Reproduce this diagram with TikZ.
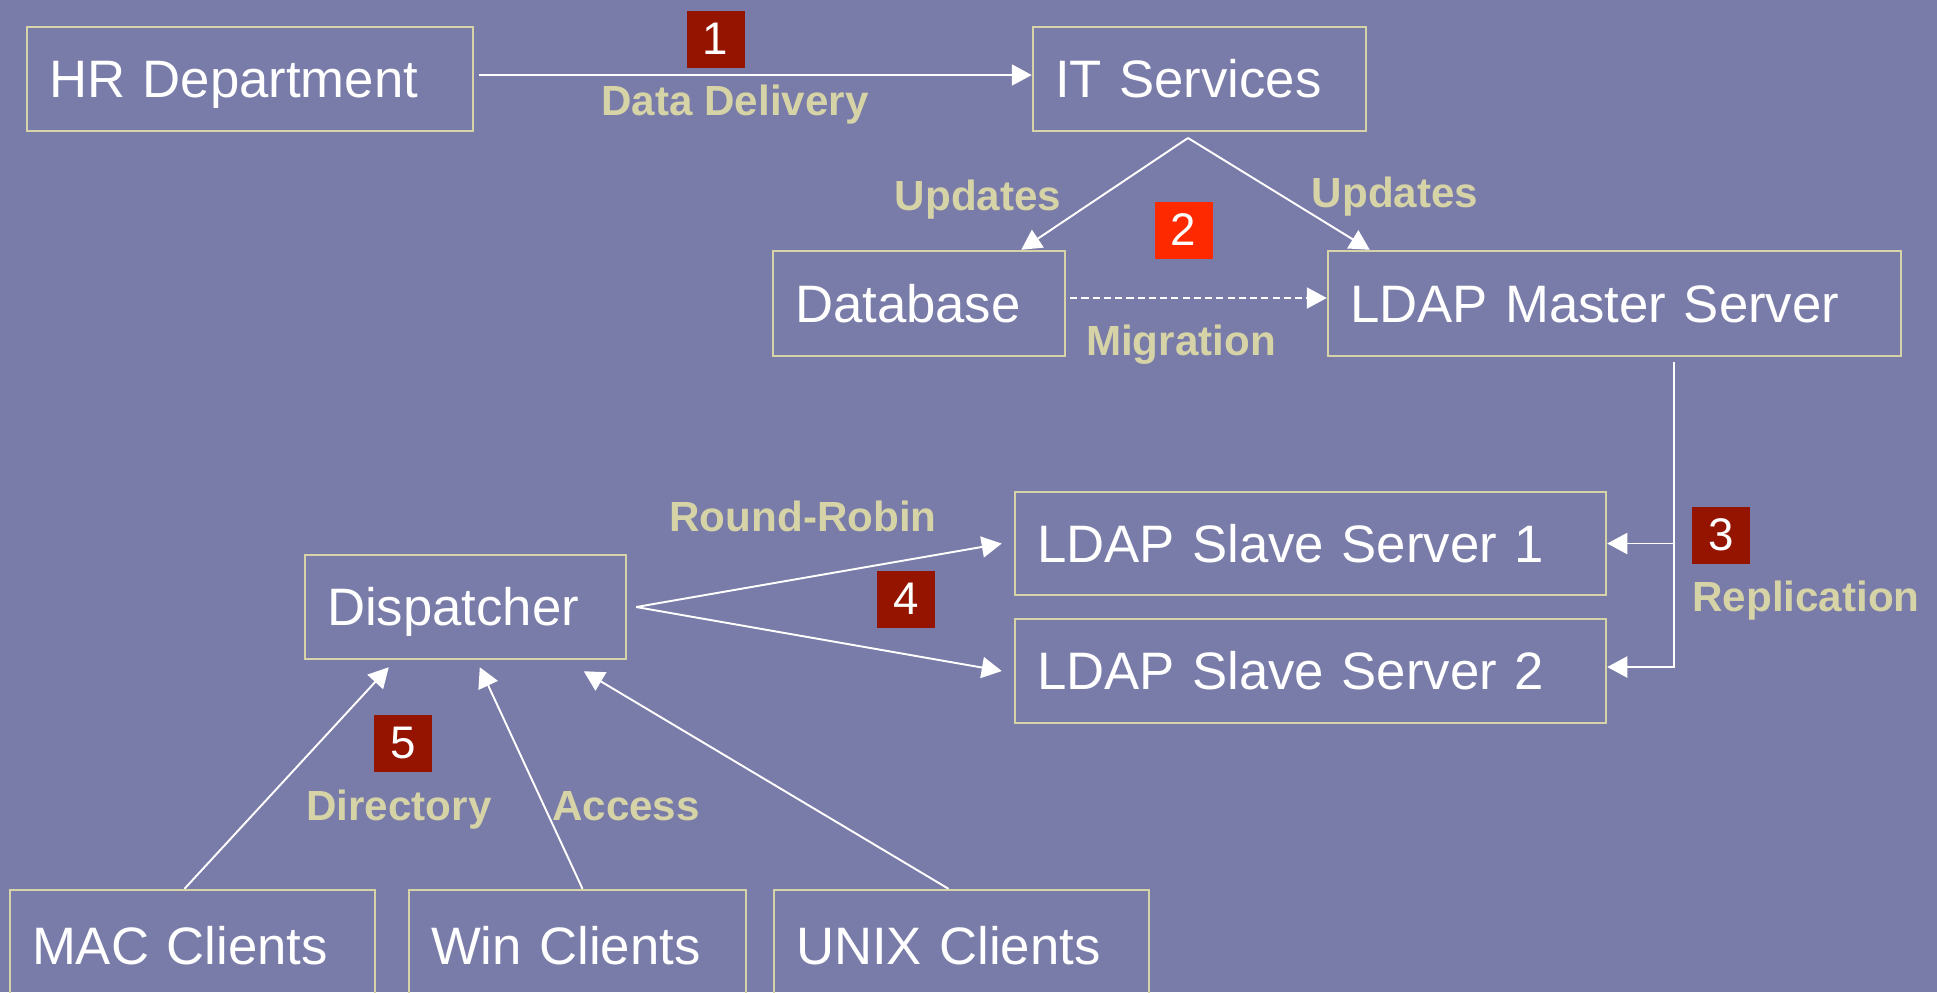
\documentclass[tikz,border=0pt]{standalone}
\usepackage{fontspec}
\setmainfont{Liberation Sans}
\usetikzlibrary{arrows.meta}
\definecolor{slate}{RGB}{121,123,168}
\definecolor{sand}{RGB}{214,211,167}
\definecolor{tagred}{RGB}{148,20,0}
\definecolor{tagbright}{RGB}{255,41,0}
\begin{document}
\begin{tikzpicture}[
  box/.style={draw=sand,line width=0.7pt,text=white,font=\fontsize{15}{18}\selectfont,align=left,inner xsep=0.22cm,inner ysep=0pt,text height=10.8pt,text depth=0pt},
  tag/.style={fill=tagred,text=white,font=\fontsize{13}{15}\selectfont,minimum width=0.58cm,minimum height=0.57cm,inner sep=0pt},
  lbl/.style={text=sand,font=\bfseries\fontsize{12}{14}\selectfont,anchor=base,inner sep=0pt},
  link/.style={draw=white,line width=0.55pt,-{Triangle[length=5.7pt,width=6pt]}}]
\path[use as bounding box,fill=slate] (0,0) rectangle (19.37,-9.92);
% boxes
\node[box,text width=4.02cm,minimum height=1.04cm] (hr) at (2.50,-0.79) {HR Department};
\node[box,text width=2.89cm,minimum height=1.04cm] (its) at (11.995,-0.79) {IT Services};
\node[box,text width=2.48cm,minimum height=1.05cm] (db) at (9.19,-3.035) {Database};
\node[box,text width=5.29cm,minimum height=1.05cm] (master) at (16.145,-3.035) {LDAP Master Server};
\node[box,text width=5.47cm,minimum height=1.03cm] (slave1) at (13.105,-5.435) {LDAP Slave Server 1};
\node[box,text width=5.47cm,minimum height=1.04cm] (slave2) at (13.105,-6.71) {LDAP Slave Server 2};
\node[box,text width=2.77cm,minimum height=1.04cm] (disp) at (4.655,-6.07) {Dispatcher};
\node[box,text width=3.21cm,minimum height=1.10cm] (mac) at (1.925,-9.45) {MAC Clients};
\node[box,text width=2.93cm,minimum height=1.10cm] (win) at (5.775,-9.45) {Win Clients};
\node[box,text width=3.31cm,minimum height=1.10cm] (unix) at (9.615,-9.45) {UNIX Clients};
% numbered steps
\node[tag] (t1) at (7.155,-0.39) {1};
\node[tag,fill=tagbright] (t2) at (11.835,-2.30) {2};
\node[tag] (t3) at (17.21,-5.35) {3};
\node[tag] (t4) at (9.06,-5.99) {4};
\node[tag] (t5) at (4.03,-7.43) {5};
% labels
\node[lbl] (ldelivery) at (7.35,-1.15) {Data Delivery};
\node[lbl] (lupdl) at (9.78,-2.10) {Updates};
\node[lbl] (lupdr) at (13.95,-2.07) {Updates};
\node[lbl] (lmigr) at (11.81,-3.55) {Migration};
\node[lbl] (lrobin) at (8.03,-5.31) {Round-Robin};
\node[lbl] (lrepl) at (18.06,-6.11) {Replication};
\node[lbl] (ldir) at (3.99,-8.20) {Directory};
\node[lbl] (lacc) at (6.26,-8.20) {Access};
% connectors
\coordinate (fork) at (11.88,-1.38);
\coordinate (rep) at (16.74,-3.62);
\coordinate (rr) at ([xshift=0.09cm]disp.east);
\draw[link] ([shift={(0.05,0.04)}]hr.east) -- ([yshift=0.04cm]its.west);
\draw[link] (fork) -- ([xshift=-0.45cm]db.north east);
\draw[link] (fork) -- ([xshift=0.43cm]master.north west);
\draw[link,dash pattern=on 2pt off 1.2pt] ([shift={(0.04,0.055)}]db.east) -- ([yshift=0.055cm]master.west);
\draw[link] (rep) |- ([yshift=0.04cm]slave2.east);
\draw[link] (rep |- slave1.east) -- (slave1.east);
\draw[link] (rr) -- ([xshift=-0.12cm]slave1.west);
\draw[link] (rr) -- ([xshift=-0.12cm]slave2.west);
\draw[link] ([xshift=-0.08cm]mac.north) -- ([shift={(0.85,-0.07)}]disp.south west);
\draw[link] ([xshift=0.05cm]win.north) -- ([shift={(1.76,-0.07)}]disp.south west);
\draw[link] ([xshift=-0.13cm]unix.north) -- ([shift={(2.80,-0.11)}]disp.south west);
\end{tikzpicture}
\end{document}
